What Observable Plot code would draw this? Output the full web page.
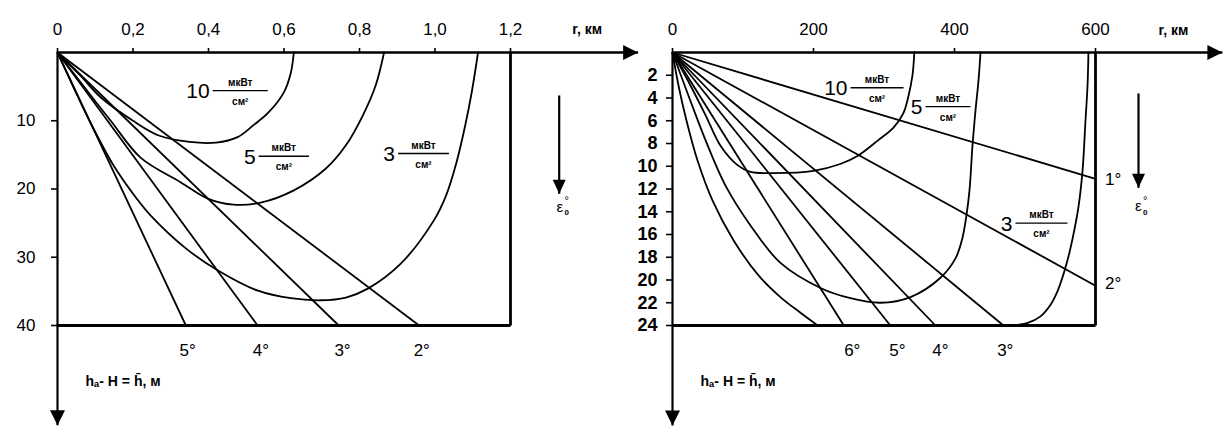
<!DOCTYPE html>
<html><head><meta charset="utf-8">
<script src="https://cdn.jsdelivr.net/npm/d3@7"></script>
<script src="https://cdn.jsdelivr.net/npm/@observablehq/plot@0.6"></script>
<style>
body{margin:0;background:#fff;}
#wrap{display:flex;width:1231px;height:429px;overflow:hidden;background:#fff;}
#wrap svg{display:block;}
</style></head><body><div id="wrap"></div>
<script>
// ================= DATA =================
// Left panel: r in km, h in m
const leftXTicks = [0, 0.2, 0.4, 0.6, 0.8, 1.0, 1.2];
const leftYTicks = [10, 20, 30, 40];
const leftAngleLabels = ["5°", "4°", "3°", "2°"];
const leftAngleEndR = [0.34, 0.53, 0.745, 0.958];
const leftAngleEndH = [40, 40, 40, 40];
const leftP10 = [[0,0],[0.061,3.4],[0.115,6.6],[0.2,10.0],[0.27,12.2],[0.35,13.1],[0.42,13.2],[0.477,12.4],[0.52,10.6],[0.557,8.9],[0.6,5.8],[0.618,3.0],[0.626,0]];
const leftP5 = [[0,0],[0.074,5.3],[0.141,10.0],[0.22,15.4],[0.326,19.0],[0.398,21.4],[0.467,22.3],[0.538,22.0],[0.626,20.2],[0.711,17.0],[0.764,13.6],[0.809,9.2],[0.843,4.8],[0.865,0]];
const leftP3 = [[0,0],[0.04,4.8],[0.0875,10.3],[0.149,16.6],[0.207,21.2],[0.247,23.9],[0.34,28.7],[0.424,31.9],[0.531,34.9],[0.618,36.0],[0.698,36.3],[0.764,35.9],[0.822,34.6],[0.91,30.9],[0.997,24.6],[1.029,21.0],[1.056,16.3],[1.08,10.7],[1.098,5.6],[1.114,0]];

// Right panel: r in km, h in m
const rightXTicks = [0, 200, 400, 600];
const rightYTicks = [2, 4, 6, 8, 10, 12, 14, 16, 18, 20, 22, 24];
const rightAngleLabels = ["1°", "2°", "3°", "4°", "5°", "6°"];
const rightAngleEndR = [600, 600, 469.5, 373, 309, 243];
const rightAngleEndH = [11.1, 20.5, 24, 24, 24, 24];
const rightP10 = [[0,0],[25.5,2.9],[46.8,5.5],[68.1,8.2],[92.2,9.9],[110.6,10.5],[143.3,10.6],[200,10.4],[238,9.8],[262.4,9.1],[292,7.7],[313.5,6.6],[327.7,5.3],[334.8,3.8],[340.4,2.0],[343,0]];
const rightP5 = [[0,0],[22.7,3.8],[46.8,7.7],[75.2,11.7],[110.6,15.2],[153.2,18.5],[209.9,20.7],[252.5,21.6],[295,22.0],[337.6,21.5],[380.1,19.8],[401.4,18.1],[411.3,16.3],[417,14.3],[421.3,12.1],[425.5,8.2],[429.8,5.1],[434,2.5],[436.9,0]];
const rightP3left = [[0,0],[8.5,2.9],[19.9,6.0],[35.5,9.5],[56.7,13.0],[86.5,16.5],[122,19.6],[153,21.5],[182,22.9],[206,24]];
const rightP3right = [[484,24],[503,23.8],[522,23.2],[536,22.2],[546,21.0],[555,19.4],[563,17.6],[570,15.6],[576,13.5],[581.6,10.4],[585.8,6.0],[588.7,2.9],[590,0]];

const levelNames = ["10", "5", "3"];
const unitTop = "мкВт";
const unitBottom = "см²";
const axisXTitle = "r, км";
const axisYTitle = "hₐ- H = h̄, м";

// ================= ANNOTATION PLACEMENT (data units) =================
const leftCfg = {
  width: 640, height: 429, marginLeft: 57, marginRight: 130, marginTop: 52, marginBottom: 104,
  xDomain: [0, 1.2], yDomain: [0, 40], xEnd: 1.538, yEnd: 54.6,
  xTicks: leftXTicks, yTicks: leftYTicks,
  xFmt: d => d === 0 ? "0" : d.toFixed(1).replace(".", ","),
  yTickPad: 16, yFont: 17, yWeight: 400,
  angleLabels: leftAngleLabels, angleEndR: leftAngleEndR, angleEndH: leftAngleEndH,
  angleLabelPos: [[0.345,43.7],[0.539,43.7],[0.755,43.7],[0.965,43.7]],
  contours: [leftP10, leftP5, leftP3],
  levelPos: [{r1:0.411,r2:0.557,h:5.6},{r1:0.533,r2:0.666,h:15.2},{r1:0.902,r2:1.037,h:14.8}],
  xTitle: [1.403, -3.4], yTitle: [0.074, 48.2],
  eps: {r: 1.329, h1: 6.3, h2: 20.7, lr: 1.322, lh: 22.6}
};
const rightCfg = {
  width: 591, height: 429, marginLeft: 32, marginRight: 136, marginTop: 52, marginBottom: 104,
  xDomain: [0, 600], yDomain: [0, 24], xEnd: 780, yEnd: 32.8,
  xTicks: rightXTicks, yTicks: rightYTicks,
  xFmt: d => String(d),
  yTickPad: 9, yFont: 18, yWeight: 600,
  angleLabels: rightAngleLabels, angleEndR: rightAngleEndR, angleEndH: rightAngleEndH,
  angleLabelPos: [[625,11.2],[625,20.3],[472,26.2],[380,26.2],[319,26.2],[255,26.2]],
  contours: [rightP10, rightP5, rightP3left, rightP3right],
  levelPos: [{r1:252.5,r2:327.7,h:3.1},{r1:358.9,r2:422.7,h:4.75},{r1:486.5,r2:560.3,h:15.0}],
  xTitle: [710.6, -1.9], yTitle: [39.7, 28.9],
  eps: {r: 661, h1: 3.6, h2: 11.9, lr: 656, lh: 13.5}
};

// arrowhead symbol: tip at origin, pointing right
const arrowHead = {draw(ctx) { ctx.moveTo(0, 0); ctx.lineTo(-15, -7.5); ctx.lineTo(-15, 7.5); ctx.closePath(); }};
const epsHead = {draw(ctx) { ctx.moveTo(0, 0); ctx.lineTo(-14, -6.5); ctx.lineTo(-14, 6.5); ctx.closePath(); }};

const FONT = "'Liberation Sans', Arial, Helvetica, sans-serif";

function panel(c) {
  const [x0, x1] = c.xDomain, [y0, y1] = c.yDomain;
  const frame = [
    {x1: x0, y1: y0, x2: c.xEnd, y2: y0, w: 2.6},
    {x1: x0, y1: y0, x2: x0, y2: c.yEnd, w: 2.2},
    {x1: x1, y1: y0, x2: x1, y2: y1, w: 2.8},
    {x1: x0, y1: y1, x2: x1, y2: y1, w: 2.8}
  ];
  const angles = c.angleEndR.map((r, i) => ({r, h: c.angleEndH[i], label: c.angleLabels[i], lr: c.angleLabelPos[i][0], lh: c.angleLabelPos[i][1]}));
  const lv = c.levelPos.map((p, i) => ({...p, name: levelNames[i], mid: (p.r1 + p.r2) / 2}));
  return Plot.plot({
    width: c.width, height: c.height,
    marginLeft: c.marginLeft, marginRight: c.marginRight, marginTop: c.marginTop, marginBottom: c.marginBottom,
    x: {domain: c.xDomain, axis: null},
    y: {domain: c.yDomain, reverse: true, axis: null},
    style: {fontFamily: FONT, color: "#000", background: "#fff", overflow: "visible"},
    marks: [
      ...c.contours.map(pts => Plot.line(pts, {x: d => d[0], y: d => d[1], curve: "catmull-rom", stroke: "#000", strokeWidth: 1.8})),
      Plot.link(angles, {x1: () => 0, y1: () => 0, x2: "r", y2: "h", stroke: "#000", strokeWidth: 1.8}),
      Plot.link(frame, {x1: "x1", y1: "y1", x2: "x2", y2: "y2", stroke: "#000", strokeWidth: d => d.w}),
      Plot.dot([{x: c.xEnd, y: y0}], {x: "x", y: "y", symbol: arrowHead, fill: "#000", stroke: "none"}),
      Plot.dot([{x: x0, y: c.yEnd}], {x: "x", y: "y", symbol: arrowHead, fill: "#000", stroke: "none", rotate: 90}),
      Plot.axisX({anchor: "top", ticks: c.xTicks, tickFormat: c.xFmt, tickSize: 5, tickPadding: 13, fontSize: 17, strokeWidth: 1.6}),
      Plot.axisY({anchor: "left", ticks: c.yTicks, tickSize: 6, tickPadding: c.yTickPad, fontSize: c.yFont, fontWeight: c.yWeight, strokeWidth: 1.6}),
      Plot.text(angles, {x: "lr", y: "lh", text: "label", fontSize: 17, textAnchor: "middle"}),
      Plot.link(lv, {x1: "r1", x2: "r2", y1: "h", y2: "h", stroke: "#000", strokeWidth: 1.3}),
      Plot.text(lv, {x: "r1", y: "h", text: "name", textAnchor: "end", dx: -3, dy: 1, fontSize: 21}),
      Plot.text(lv, {x: "mid", y: "h", text: () => unitTop, dy: -8, fontSize: 10, fontWeight: 600}),
      Plot.text(lv, {x: "mid", y: "h", text: () => unitBottom, dy: 11, fontSize: 10, fontWeight: 600}),
      Plot.text([c.xTitle], {x: d => d[0], y: d => d[1], text: () => axisXTitle, fontSize: 14, fontWeight: "bold"}),
      Plot.text([c.yTitle], {x: d => d[0], y: d => d[1], text: () => axisYTitle, fontSize: 14, fontWeight: "bold", textAnchor: "start"}),
      Plot.link([c.eps], {x1: "r", x2: "r", y1: "h1", y2: "h2", stroke: "#000", strokeWidth: 2.2}),
      Plot.dot([c.eps], {x: "r", y: "h2", symbol: epsHead, fill: "#000", stroke: "none", rotate: 90}),
      Plot.text([c.eps], {x: "lr", y: "lh", text: () => "ε", fontSize: 15, textAnchor: "start"}),
      Plot.text([c.eps], {x: "lr", y: "lh", text: () => "°", fontSize: 11, textAnchor: "start", dx: 8, dy: -6}),
      Plot.text([c.eps], {x: "lr", y: "lh", text: () => "0", fontSize: 8, fontWeight: "bold", textAnchor: "start", dx: 8, dy: 6})
    ]
  });
}

const wrap = document.getElementById("wrap");
wrap.appendChild(panel(leftCfg));
wrap.appendChild(panel(rightCfg));
</script></body></html>
